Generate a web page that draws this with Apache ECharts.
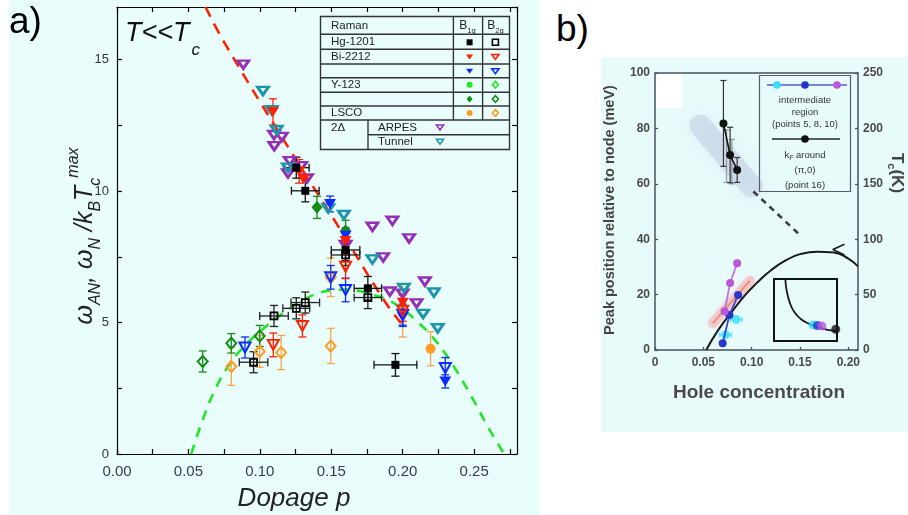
<!DOCTYPE html>
<html><head><meta charset="utf-8">
<script src="https://cdn.jsdelivr.net/npm/echarts/dist/echarts.min.js"></script>
<style>
html,body{margin:0;padding:0;background:#fff;width:908px;height:515px;overflow:hidden;position:relative}
#a{position:absolute;left:0;top:0;width:548px;height:515px}
#b{position:absolute;left:600px;top:55px;width:308px;height:378px;filter:blur(0.6px)}
</style></head><body>
<div id="a"></div><div id="b"></div>
<script>
// ================= PANEL a DATA =================
// tick labels
const A_X_LABELS = ['0.00','0.05','0.10','0.15','0.20','0.25'];
const A_Y_LABELS = ['0','5','10','15'];
// each point: [p, value, pErr, valueErr]
const hgB1g = [[0.1255,10.89,0.009,0.4],[0.1318,10.01,0.0097,0.42],[0.16,7.76,0.01,0.4],[0.1756,6.30,0.0096,0.45],[0.1949,3.39,0.015,0.43]];
const hgB2g = [[0.0956,3.49,0.01,0.4],[0.1099,5.25,0.01,0.4],[0.1255,5.54,0.0094,0.4],[0.1318,5.76,0.01,0.4],[0.16,7.57,0.01,0.4],[0.1756,5.95,0.0096,0.42]];
const redB1g = [[0.1092,13.01,0,0.5],[0.1275,10.75,0,0.45],[0.1305,10.45,0,0],[0.16,8.1,0,0.45],[0.2,5.75,0,0.3]];
const redB2g = [[0.1094,4.15,0,0.45],[0.1298,4.87,0,0.42],[0.16,7.12,0,0.45],[0.2,5.45,0,0.4]];
const blueB1g = [[0.1491,9.51,0,0.3],[0.16,8.3,0,0.3],[0.2,5.2,0,0.35],[0.2298,2.76,0,0.25]];
const blueB2g = [[0.0896,4.05,0,0.4],[0.1496,6.72,0,0.45],[0.16,6.24,0,0.45],[0.2,5.3,0,0.4],[0.2298,3.27,0,0.4]];
const dgreenB1g = [[0.14,9.38,0,0.42],[0.16,8.49,0,0.4]];
const dgreenB2g = [[0.06,3.52,0,0.4],[0.08,4.21,0,0.37],[0.0999,4.49,0,0.4]];
const lscoB1g = [[0.2195,4.0,0,0.65]];
const lscoB2g = [[0.08,3.33,0,0.72],[0.0999,3.9,0,0.6],[0.1149,3.86,0,0.65],[0.1496,6.72,0,0.73],[0.1496,4.11,0,0.67],[0.2,5.45,0,1.0]];
const arpes = [[0.0884,14.81],[0.1099,12.13],[0.1154,12.06],[0.1101,11.71],[0.1209,11.14],[0.1197,10.67],[0.1289,10.95],[0.133,10.48],[0.16,7.95],[0.1788,8.64],[0.1928,8.87],[0.2045,8.2],[0.1863,7.48],[0.191,6.18],[0.2,6.1],[0.2097,5.73],[0.2155,6.56]];
const tunnel = [[0.1022,13.81],[0.1082,13.08],[0.1118,12.32],[0.1197,10.89],[0.1479,9.34],[0.1588,9.09],[0.1788,7.4],[0.2008,6.32],[0.2143,5.33],[0.2218,6.14],[0.2245,4.78]];
const redDash = [[0.062,17],[0.0759,15.58],[0.1197,11.68],[0.1536,8.77],[0.1875,5.8],[0.2,4.9]];
const greenDash = [[0.052,0],[0.06,1.3],[0.07,2.6],[0.08,3.5],[0.09,4.15],[0.10,4.65],[0.11,5.1],[0.12,5.5],[0.13,5.85],[0.14,6.1],[0.15,6.22],[0.16,6.25],[0.17,6.2],[0.18,6.05],[0.19,5.85],[0.20,5.5],[0.21,5.05],[0.22,4.5],[0.23,3.8],[0.24,2.95],[0.25,2.0],[0.26,1.0],[0.271,0]];

// ================= PANEL b DATA =================
const B_X_LABELS = ['0','0.05','0.10','0.15','0.20'];
const B_YL_LABELS = ['0','20','40','60','80','100'];
const B_YR_LABELS = ['0','50','100','150','200','250'];
const tcDome = [[0.053,0],[0.065,7],[0.081,14.5],[0.095,20.5],[0.105,24.1],[0.12,28.8],[0.136,32.5],[0.15,34.6],[0.1675,35.5],[0.185,35.2],[0.2,33],[0.21,30.2]];
const tcArrow = [[0.196,38.2],[0.184,36.3],[0.196,34.3]];
const dashB = [[0.1018,57.2],[0.15,41.5]];
const greyBlob = [[0.047,81],[0.1,59]];
const pinkBand = [[0.06,9.7],[0.098,25]];
const kfPts = [[0.0708,81.8,0,15.5],[0.0777,70.4,0,10],[0.085,65,0,4.5]];
const greyBars = [[0.074,70,0,9.5],[0.0795,68,0,8]];
const bluePts = [[0.070,2.4],[0.077,12.6],[0.086,19.9]];
const purplePts = [[0.072,14],[0.0777,24.2],[0.085,31.3]];
const cyanPts = [[0.073,5.5,0.006,0],[0.084,11,0.006,0]];
const insetArc = [[0.18,1.0],[0.2,0.82],[0.25,0.62],[0.32,0.47],[0.42,0.36],[0.55,0.28],[0.7,0.22],[0.85,0.18],[1.0,0.16]];
const insetDots = [[0.62,0.26,'#33ddff'],[0.69,0.25,'#2233cc'],[0.76,0.24,'#bb55dd'],[0.98,0.19,'#111']];

// ================= helpers =================
const FONT = '"Liberation Sans", Arial, sans-serif';
function errSeries(name, data, color, cap, xi, yi, lw) {
  return {
    name, type: 'custom', data, z: 3, silent: true,
    xAxisIndex: xi || 0, yAxisIndex: yi || 0,
    encode: {x: 0, y: 1},
    renderItem: function (params, api) {
      const x = api.value(0), y = api.value(1), ex = api.value(2), ey = api.value(3);
      const st = {stroke: color, lineWidth: lw || 1.3};
      const ch = [];
      if (ey > 0) {
        const a = api.coord([x, y - ey]), b = api.coord([x, y + ey]);
        ch.push({type: 'line', shape: {x1: a[0], y1: a[1], x2: b[0], y2: b[1]}, style: st});
        ch.push({type: 'line', shape: {x1: a[0] - cap, y1: a[1], x2: a[0] + cap, y2: a[1]}, style: st});
        ch.push({type: 'line', shape: {x1: b[0] - cap, y1: b[1], x2: b[0] + cap, y2: b[1]}, style: st});
      }
      if (ex > 0) {
        const a = api.coord([x - ex, y]), b = api.coord([x + ex, y]);
        ch.push({type: 'line', shape: {x1: a[0], y1: a[1], x2: b[0], y2: b[1]}, style: st});
        ch.push({type: 'line', shape: {x1: a[0], y1: a[1] - cap, x2: a[0], y2: a[1] + cap}, style: st});
        ch.push({type: 'line', shape: {x1: b[0], y1: b[1] - cap, x2: b[0], y2: b[1] + cap}, style: st});
      }
      return {type: 'group', children: ch};
    }
  };
}
function markSeries(name, data, symbol, size, color, open, rotate, z, bw) {
  return {
    name, type: 'scatter', data, symbol, symbolSize: size, symbolRotate: rotate || 0,
    z: z || 5, silent: true, encode: {x: 0, y: 1},
    itemStyle: open ? {color: 'rgba(0,0,0,0)', borderColor: color, borderWidth: bw || 2, opacity: 1}
                    : {color: color, opacity: 1}
  };
}

// ================= PANEL a =================
const chartA = echarts.init(document.getElementById('a'), null, {renderer: 'canvas'});
const C = {
  black: '#000', red: '#ff2200', blue: '#0a2cff', dgreen: '#138c13', lgreen: '#22e622',
  orange: '#ff9a22', orangeBar: '#f4a64a', purple: '#9330b5', teal: '#1b97a9'
};
function aXfmt(v) { const r = Math.round(v / 0.05); return Math.abs(v - r * 0.05) < 1e-6 && A_X_LABELS[r] ? A_X_LABELS[r] : ''; }
function aYfmt(v) { const r = Math.round(v / 5); return Math.abs(v - r * 5) < 1e-6 && A_Y_LABELS[r] ? A_Y_LABELS[r] : ''; }
const axA = {
  axisLine: {onZero: false, lineStyle: {color: '#000', width: 1.2}},
  axisTick: {inside: true, length: 5, lineStyle: {color: '#000', width: 1.2}},
  splitLine: {show: false}
};

// legend table graphic
const TL = 320.5, TR = 509.5, TT = 16.5, TB = 149.5;
const colB1 = 453.4, colB2 = 482.6, col2D = 368;
const rowY = [34.3, 49.3, 64, 77.7, 92.3, 106, 120];
const lineSt = {stroke: '#333', lineWidth: 1.4};
const legG = [];
legG.push({type: 'rect', shape: {x: TL, y: TT, width: TR - TL, height: TB - TT}, style: {fill: 'rgba(0,0,0,0)', stroke: '#333', lineWidth: 1.4}, z: 20});
rowY.forEach(y => legG.push({type: 'line', shape: {x1: TL, y1: y, x2: TR, y2: y}, style: lineSt, z: 20}));
legG.push({type: 'line', shape: {x1: col2D, y1: 134.7, x2: TR, y2: 134.7}, style: lineSt, z: 20});
legG.push({type: 'line', shape: {x1: colB1, y1: TT, x2: colB1, y2: 120}, style: lineSt, z: 20});
legG.push({type: 'line', shape: {x1: colB2, y1: TT, x2: colB2, y2: 120}, style: lineSt, z: 20});
legG.push({type: 'line', shape: {x1: col2D, y1: 120, x2: col2D, y2: TB}, style: lineSt, z: 20});
function ltxt(t, x, y) {
  legG.push({type: 'text', x, y, z: 21, style: {text: t, fontSize: 11.5, fontFamily: FONT, fill: '#222', align: 'left', verticalAlign: 'middle', textAlign: 'left', textVerticalAlign: 'middle'}});
}
ltxt('Raman', 331, 25.5); ltxt('Hg-1201', 331, 42); ltxt('Bi-2212', 331, 56.5);
ltxt('Y-123', 331, 85); ltxt('LSCO', 331, 113); ltxt('2\u0394', 331, 127.5);
ltxt('ARPES', 378, 127.5); ltxt('Tunnel', 378, 142);
function hdr(sub, x) {
  legG.push({type: 'text', x, y: 25.5, z: 21, style: {text: '{b|B}{s|' + sub + '}', align: 'center', verticalAlign: 'middle', textAlign: 'center', textVerticalAlign: 'middle',
    rich: {b: {fontSize: 12, fontFamily: FONT, fill: '#222', lineHeight: 18}, s: {fontSize: 7.5, fontFamily: FONT, fill: '#222', lineHeight: 8, verticalAlign: 'bottom'}}}});
}
hdr('1g', 467.5); hdr('2g', 495.5);
function lm(shape, cx, cy, color, open) {
  const s = 3.0;
  const st = open ? {fill: 'rgba(0,0,0,0)', stroke: color, lineWidth: 1.6} : {fill: color};
  let el;
  if (shape === 'sq') el = {type: 'rect', shape: {x: cx - s, y: cy - s, width: 2 * s, height: 2 * s}};
  else if (shape === 'tri') el = {type: 'polygon', shape: {points: [[cx - s - 0.6, cy - s * 0.75], [cx + s + 0.6, cy - s * 0.75], [cx, cy + s * 0.9]]}};
  else if (shape === 'dia') el = {type: 'polygon', shape: {points: [[cx, cy - s - 0.4], [cx + s, cy], [cx, cy + s + 0.4], [cx - s, cy]]}};
  else el = {type: 'circle', shape: {cx, cy, r: s}};
  el.style = st; el.z = 21; legG.push(el);
}
const cB1 = 469.6, cB2 = 495.4;
lm('sq', cB1, 42.3, C.black, false); lm('sq', cB2, 42.3, C.black, true);
lm('tri', cB1, 56.7, C.red, false); lm('tri', cB2, 56.7, C.red, true);
lm('tri', cB1, 71, C.blue, false); lm('tri', cB2, 71, C.blue, true);
lm('cir', cB1, 84.7, C.lgreen, false); lm('dia', cB2, 84.7, C.lgreen, true);
lm('dia', cB1, 99, C.dgreen, false); lm('dia', cB2, 99, C.dgreen, true);
lm('cir', cB1, 113, C.orange, false); lm('dia', cB2, 113, C.orange, true);
lm('tri', 440, 127.3, C.purple, true); lm('tri', 440, 141.5, C.teal, true);

const graphicA = [
  {type: 'rect', shape: {x: 9, y: 0, width: 531, height: 515}, style: {fill: '#eafdfd'}, z: -10},
  {type: 'text', x: 9, y: 4, style: {text: 'a)', fontSize: 37, fontFamily: FONT, fill: '#000', align: 'left', verticalAlign: 'top', textAlign: 'left', textVerticalAlign: 'top'}},
  {type: 'text', x: 125, y: 33, z: 21, style: {text: '{m|T<<T}{s|c}', align: 'left', verticalAlign: 'middle', textAlign: 'left', textVerticalAlign: 'middle',
    rich: {m: {fontSize: 27, fontStyle: 'italic', fontFamily: FONT, fill: '#111', lineHeight: 36},
           s: {fontSize: 17, fontStyle: 'italic', fontFamily: FONT, fill: '#111', lineHeight: 17, verticalAlign: 'bottom', padding: [0, 0, -8, 2]}}}},
  {type: 'text', x: 294, y: 499, style: {text: 'Dopage p', fontSize: 26, fontStyle: 'italic', fontFamily: FONT, fill: '#222', align: 'center', verticalAlign: 'middle', textAlign: 'center', textVerticalAlign: 'middle'}},
  {type: 'text', x: 85, y: 236, rotation: Math.PI / 2, style: {
    text: '{m|\u03c9}{s|AN}{m|, \u03c9}{s|N}{m| /k}{s|B}{m|T}{s|c}{p|max}',
    align: 'center', verticalAlign: 'middle', textAlign: 'center', textVerticalAlign: 'middle',
    rich: {m: {fontSize: 25, fontStyle: 'italic', fontFamily: FONT, fill: '#222', lineHeight: 38},
           s: {fontSize: 16, fontStyle: 'italic', fontFamily: FONT, fill: '#222', lineHeight: 16, verticalAlign: 'bottom'},
           p: {fontSize: 16, fontStyle: 'italic', fontFamily: FONT, fill: '#222', lineHeight: 16, verticalAlign: 'top'}}}}
].concat(legG);

chartA.setOption({
  animation: false,
  backgroundColor: 'rgba(0,0,0,0)',
  grid: [{left: 117, top: 7, width: 400, height: 447, show: false}],
  xAxis: [
    Object.assign({gridIndex: 0, type: 'value', min: 0, max: 0.28, interval: 0.025, position: 'bottom',
      axisLabel: {formatter: aXfmt, fontSize: 15, color: '#3a3a4a', fontFamily: FONT, margin: 10, showMaxLabel: false}}, axA),
    Object.assign({gridIndex: 0, type: 'value', min: 0, max: 0.28, interval: 0.025, position: 'top', axisLabel: {show: false}}, axA)
  ],
  yAxis: [
    Object.assign({gridIndex: 0, type: 'value', min: 0, max: 17, interval: 2.5, position: 'left',
      axisLabel: {formatter: aYfmt, fontSize: 13, color: '#333', fontFamily: FONT, margin: 8, showMaxLabel: false}}, axA),
    Object.assign({gridIndex: 0, type: 'value', min: 0, max: 17, interval: 2.5, position: 'right', axisLabel: {show: false}}, axA)
  ],
  graphic: graphicA,
  series: [
    {name: 'green dash', type: 'line', data: greenDash, smooth: true, symbol: 'none', z: 1, silent: true,
      lineStyle: {color: C.lgreen, width: 2.6, type: [10, 8]}},
    {name: 'red dash', type: 'line', data: redDash, smooth: true, symbol: 'none', z: 1, silent: true,
      lineStyle: {color: C.red, width: 2.6, type: [11, 8]}},
    errSeries('lscoB2g err', lscoB2g, C.orangeBar, 4),
    errSeries('lscoB1g err', lscoB1g, C.orangeBar, 4),
    errSeries('dgB2g err', dgreenB2g, C.dgreen, 4),
    errSeries('dgB1g err', dgreenB1g, C.dgreen, 4),
    errSeries('blueB2g err', blueB2g, C.blue, 4),
    errSeries('blueB1g err', blueB1g, C.blue, 4),
    errSeries('redB2g err', redB2g, C.red, 4),
    errSeries('redB1g err', redB1g, C.red, 4),
    errSeries('hgB2g err', hgB2g, '#222', 4),
    errSeries('hgB1g err', hgB1g, '#111', 4),
    markSeries('LSCO B2g', lscoB2g, 'diamond', [10, 11], C.orange, true, 0, 5),
    markSeries('LSCO B1g', lscoB1g, 'circle', 10, C.orange, false, 0, 5),
    markSeries('Y-123 B2g', dgreenB2g, 'diamond', [10, 11], C.dgreen, true, 0, 5),
    markSeries('Y-123 B1g', dgreenB1g, 'diamond', [11, 13], C.dgreen, false, 0, 5),
    markSeries('ARPES', arpes, 'triangle', [11, 8], C.purple, true, 180, 6, 2.8),
    markSeries('Tunnel', tunnel, 'triangle', [11, 8], C.teal, true, 180, 6, 2.8),
    markSeries('Bi blue B2g', blueB2g, 'triangle', [11, 10], C.blue, true, 180, 7),
    markSeries('Bi blue B1g', blueB1g, 'triangle', [12, 10], C.blue, false, 180, 7),
    markSeries('Bi red B2g', redB2g, 'triangle', [11, 10], C.red, true, 180, 7),
    markSeries('Bi red B1g', redB1g, 'triangle', [12, 10], C.red, false, 180, 7),
    markSeries('Hg B2g', hgB2g, 'rect', 7, C.black, true, 0, 8, 1.8),
    markSeries('Hg B1g', hgB1g, 'rect', 8, C.black, false, 0, 8)
  ]
});

// ================= PANEL b =================
const chartB = echarts.init(document.getElementById('b'), null, {renderer: 'canvas'});
const axB = {
  axisLine: {onZero: false, lineStyle: {color: '#4a5260', width: 1.5}},
  axisTick: {inside: true, length: 3, lineStyle: {color: '#4a5260', width: 1.3}},
  splitLine: {show: false}
};
const lblB = {fontSize: 12, fontWeight: 'bold', color: '#4a4a4a', fontFamily: FONT};
function bx(v) { const r = Math.round(v / 0.05); return Math.abs(v - r * 0.05) < 1e-6 && B_X_LABELS[r] ? B_X_LABELS[r] : ''; }
function byl(v) { const r = Math.round(v / 20); return Math.abs(v - r * 20) < 1e-6 && B_YL_LABELS[r] ? B_YL_LABELS[r] : ''; }
function byr(v) { const r = Math.round(v / 50); return Math.abs(v - r * 50) < 1e-6 && B_YR_LABELS[r] ? B_YR_LABELS[r] : ''; }

const graphicB = [
  {type: 'rect', shape: {x: 1, y: 2, width: 307, height: 375}, style: {fill: '#e8fbfb'}, z: -10},
  {type: 'rect', shape: {x: 56, y: 19, width: 26, height: 34}, style: {fill: '#ffffff'}, z: 2},
  {type: 'text', x: 10, y: 210 - 55, rotation: Math.PI / 2, style: {text: 'Peak position relative to node (meV)', fontSize: 14.5, fontWeight: 'bold', fontFamily: FONT, fill: '#444',
    align: 'center', verticalAlign: 'middle', textAlign: 'center', textVerticalAlign: 'middle'}},
  {type: 'text', x: 159, y: 338, style: {text: 'Hole concentration', fontSize: 19, fontWeight: 'bold', fontFamily: FONT, fill: '#4a4a4a',
    align: 'center', verticalAlign: 'middle', textAlign: 'center', textVerticalAlign: 'middle'}},
  {type: 'text', x: 297, y: 118, rotation: -Math.PI / 2, style: {text: '{m|T}{s|c}{m|(K)}',
    align: 'center', verticalAlign: 'middle', textAlign: 'center', textVerticalAlign: 'middle',
    rich: {m: {fontSize: 17, fontWeight: 'bold', fontFamily: FONT, fill: '#444', lineHeight: 22},
           s: {fontSize: 11, fontWeight: 'bold', fontFamily: FONT, fill: '#444', lineHeight: 11, verticalAlign: 'bottom'}}}},
  // legend box
  {type: 'rect', shape: {x: 159.5, y: 20.5, width: 91, height: 116}, style: {fill: 'rgba(0,0,0,0)', stroke: '#555b66', lineWidth: 1.2}, z: 10},
  {type: 'line', shape: {x1: 167, y1: 30, x2: 247, y2: 30}, style: {stroke: '#5a5ad0', lineWidth: 1.5}, z: 10},
  {type: 'circle', shape: {cx: 177, cy: 30, r: 3.8}, style: {fill: '#33ddff'}, z: 11},
  {type: 'circle', shape: {cx: 205, cy: 30, r: 3.8}, style: {fill: '#2233cc'}, z: 11},
  {type: 'circle', shape: {cx: 237, cy: 30, r: 3.8}, style: {fill: '#bb55dd'}, z: 11},
  {type: 'line', shape: {x1: 172, y1: 84, x2: 240, y2: 84}, style: {stroke: '#222', lineWidth: 1.5}, z: 10},
  {type: 'circle', shape: {cx: 205, cy: 84, r: 3.8}, style: {fill: '#111'}, z: 11}
];
function btxt(t, y) {
  graphicB.push({type: 'text', x: 205, y, z: 11, style: {text: t, fontSize: 9.5, fontFamily: FONT, fill: '#333',
    align: 'center', verticalAlign: 'middle', textAlign: 'center', textVerticalAlign: 'middle'}});
}
btxt('intermediate', 45); btxt('region', 57); btxt('(points 5, 8, 10)', 69);
graphicB.push({type: 'text', x: 205, y: 100, z: 11, style: {text: '{a|k}{s|F}{a| around}', align: 'center', verticalAlign: 'middle', textAlign: 'center', textVerticalAlign: 'middle',
  rich: {a: {fontSize: 9.5, fontFamily: FONT, fill: '#333', lineHeight: 14}, s: {fontSize: 7, fontFamily: FONT, fill: '#333', lineHeight: 7, verticalAlign: 'bottom'}}}});
btxt('(\u03c0,0)', 115); btxt('(point 16)', 130);

chartB.setOption({
  animation: false,
  backgroundColor: 'rgba(0,0,0,0)',
  grid: [
    {left: 55, top: 18, width: 203, height: 277, show: false},
    {left: 174, top: 224, width: 63, height: 62, show: true, borderColor: '#111', borderWidth: 2, backgroundColor: 'rgba(0,0,0,0)'}
  ],
  xAxis: [
    Object.assign({gridIndex: 0, type: 'value', min: 0, max: 0.21, interval: 0.05, position: 'bottom',
      axisLabel: Object.assign({formatter: bx, margin: 7, showMaxLabel: false}, lblB)}, axB),
    Object.assign({gridIndex: 0, type: 'value', min: 0, max: 0.21, interval: 0.05, position: 'top', axisLabel: {show: false}, axisTick: {show: false}}, {axisLine: axB.axisLine, splitLine: {show: false}}),
    {gridIndex: 1, type: 'value', min: 0, max: 1, show: false}
  ],
  yAxis: [
    Object.assign({gridIndex: 0, type: 'value', min: 0, max: 100, interval: 20, position: 'left',
      axisLabel: Object.assign({formatter: byl, margin: 5}, lblB)}, axB),
    Object.assign({gridIndex: 0, type: 'value', min: 0, max: 250, interval: 50, position: 'right',
      axisLabel: Object.assign({formatter: byr, margin: 5}, lblB)}, axB),
    {gridIndex: 1, type: 'value', min: 0, max: 1, show: false}
  ],
  graphic: graphicB,
  series: [
    {name: 'blob', type: 'line', data: greyBlob, symbol: 'none', z: 1, silent: true,
      lineStyle: {color: 'rgba(140,150,195,0.22)', width: 22, cap: 'round', shadowBlur: 18, shadowColor: 'rgba(140,150,195,0.55)'}},
    {name: 'band', type: 'line', data: pinkBand, symbol: 'none', z: 2, silent: true,
      lineStyle: {color: 'rgba(255,120,130,0.3)', width: 10, cap: 'round', shadowBlur: 6, shadowColor: 'rgba(255,120,130,0.5)'}},
    {name: 'band line', type: 'line', data: pinkBand, symbol: 'none', z: 2, silent: true,
      lineStyle: {color: 'rgba(235,110,60,0.6)', width: 2}},
    {name: 'Tc', type: 'line', data: tcDome, smooth: true, symbol: 'none', z: 3, silent: true,
      lineStyle: {color: '#1a1a1a', width: 2}},
    {name: 'arrow', type: 'line', data: tcArrow, symbol: 'none', z: 3, silent: true,
      lineStyle: {color: '#1a1a1a', width: 1.6}},
    {name: 'dash', type: 'line', data: dashB, symbol: 'none', z: 3, silent: true,
      lineStyle: {color: '#3a3a44', width: 2.6, type: [6, 5]}},
    errSeries('grey bars', greyBars, '#9a9aa6', 3, 0, 0, 1.3),
    errSeries('kf bars', kfPts, '#333', 3, 0, 0, 1.2),
    {name: 'kf line', type: 'line', data: kfPts, symbol: 'circle', symbolSize: 8, z: 5, silent: true,
      itemStyle: {color: '#111'}, lineStyle: {color: '#111', width: 1.6}, encode: {x: 0, y: 1}},
    errSeries('cyan bars', cyanPts, 'rgba(60,220,255,0.8)', 2.5, 0, 0, 1.4),
    {name: 'cyan', type: 'scatter', data: cyanPts, symbolSize: 9, z: 5, silent: true, encode: {x: 0, y: 1},
      itemStyle: {color: '#3fe0ff', opacity: 0.85}},
    {name: 'blue', type: 'line', data: bluePts, symbol: 'circle', symbolSize: 8, z: 6, silent: true,
      itemStyle: {color: '#2a36c8'}, lineStyle: {color: '#3b45d0', width: 1.8}},
    {name: 'purple', type: 'line', data: purplePts, symbol: 'circle', symbolSize: 8, z: 6, silent: true,
      itemStyle: {color: '#b858d8'}, lineStyle: {color: '#c070e0', width: 1.8}},
    {name: 'inset arc', type: 'line', xAxisIndex: 2, yAxisIndex: 2, data: insetArc, smooth: true, symbol: 'none', z: 5, silent: true,
      lineStyle: {color: '#1a1a1a', width: 1.8}},
    {name: 'inset dots', type: 'scatter', xAxisIndex: 2, yAxisIndex: 2, data: insetDots, symbolSize: 9, z: 6, silent: true,
      encode: {x: 0, y: 1}, itemStyle: {color: function (p) { return p.data[2]; }}}
  ]
});
</script>
<div style="position:absolute;left:556px;top:8px;font:37px 'Liberation Sans',Arial,sans-serif;color:#000;">b)</div>
</body></html>
